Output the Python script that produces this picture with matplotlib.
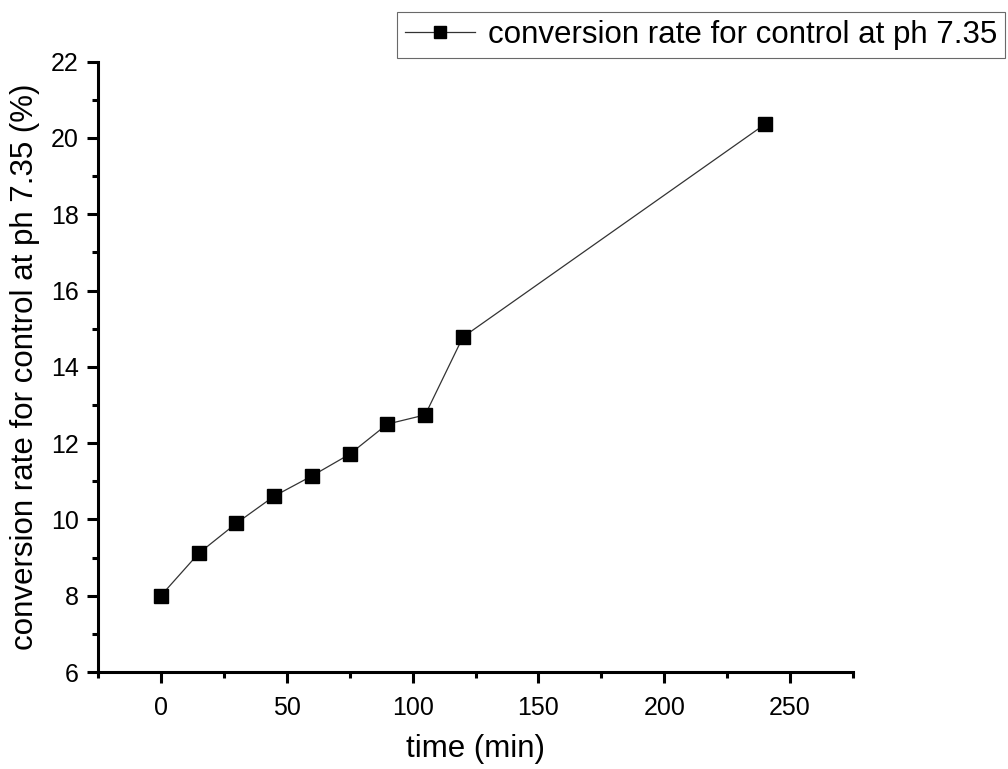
import matplotlib
matplotlib.use("Agg")
import matplotlib.pyplot as plt
from matplotlib.ticker import MultipleLocator

time_min = [0, 15, 30, 45, 60, 75, 90, 105, 120, 240]
conversion = [8.0, 9.11, 9.9, 10.61, 11.14, 11.71, 12.5, 12.74, 14.78, 20.36]
series_label = "conversion rate for control at ph 7.35"

plt.rcParams['font.family'] = ['Liberation Sans', 'DejaVu Sans']

fig = plt.figure(figsize=(10.08, 7.69), dpi=100)
ax = fig.add_axes([98/1008, 1-672/769, (853-98)/1008, (672-61.7)/769])

ax.plot(time_min, conversion, color='#333333', linewidth=0.9, marker='s',
        markersize=9.5, markerfacecolor='black', markeredgecolor='black',
        label=series_label)

ax.set_xlim(-25, 275)
ax.set_ylim(6, 22)
ax.xaxis.set_major_locator(MultipleLocator(50))
ax.xaxis.set_minor_locator(MultipleLocator(25))
ax.yaxis.set_major_locator(MultipleLocator(2))
ax.yaxis.set_minor_locator(MultipleLocator(1))

for s in ['top', 'right']:
    ax.spines[s].set_visible(False)
for s in ['left', 'bottom']:
    ax.spines[s].set_linewidth(2.2)

ax.tick_params(which='major', direction='out', length=8, width=2.2, labelsize=18)
ax.tick_params(axis='x', which='major', pad=9)
ax.tick_params(axis='y', which='major', pad=6)
ax.tick_params(which='minor', direction='out', length=4, width=2.2)

ax.set_xlabel("time (min)", fontsize=22.5, labelpad=10)
ax.set_ylabel("conversion rate for control at ph 7.35 (%)", fontsize=22.5, labelpad=8)

leg = fig.legend(loc='upper right', bbox_to_anchor=(1005/1008, 1-12/769),
                 fontsize=22.5, frameon=True, fancybox=False, shadow=False,
                 handlelength=2.25, borderpad=0.25, handletextpad=0.4, borderaxespad=0,
                 markerscale=0.85)
leg.get_frame().set_edgecolor('#444444')
leg.get_frame().set_linewidth(0.8)

fig.savefig("out.png", dpi=100)
